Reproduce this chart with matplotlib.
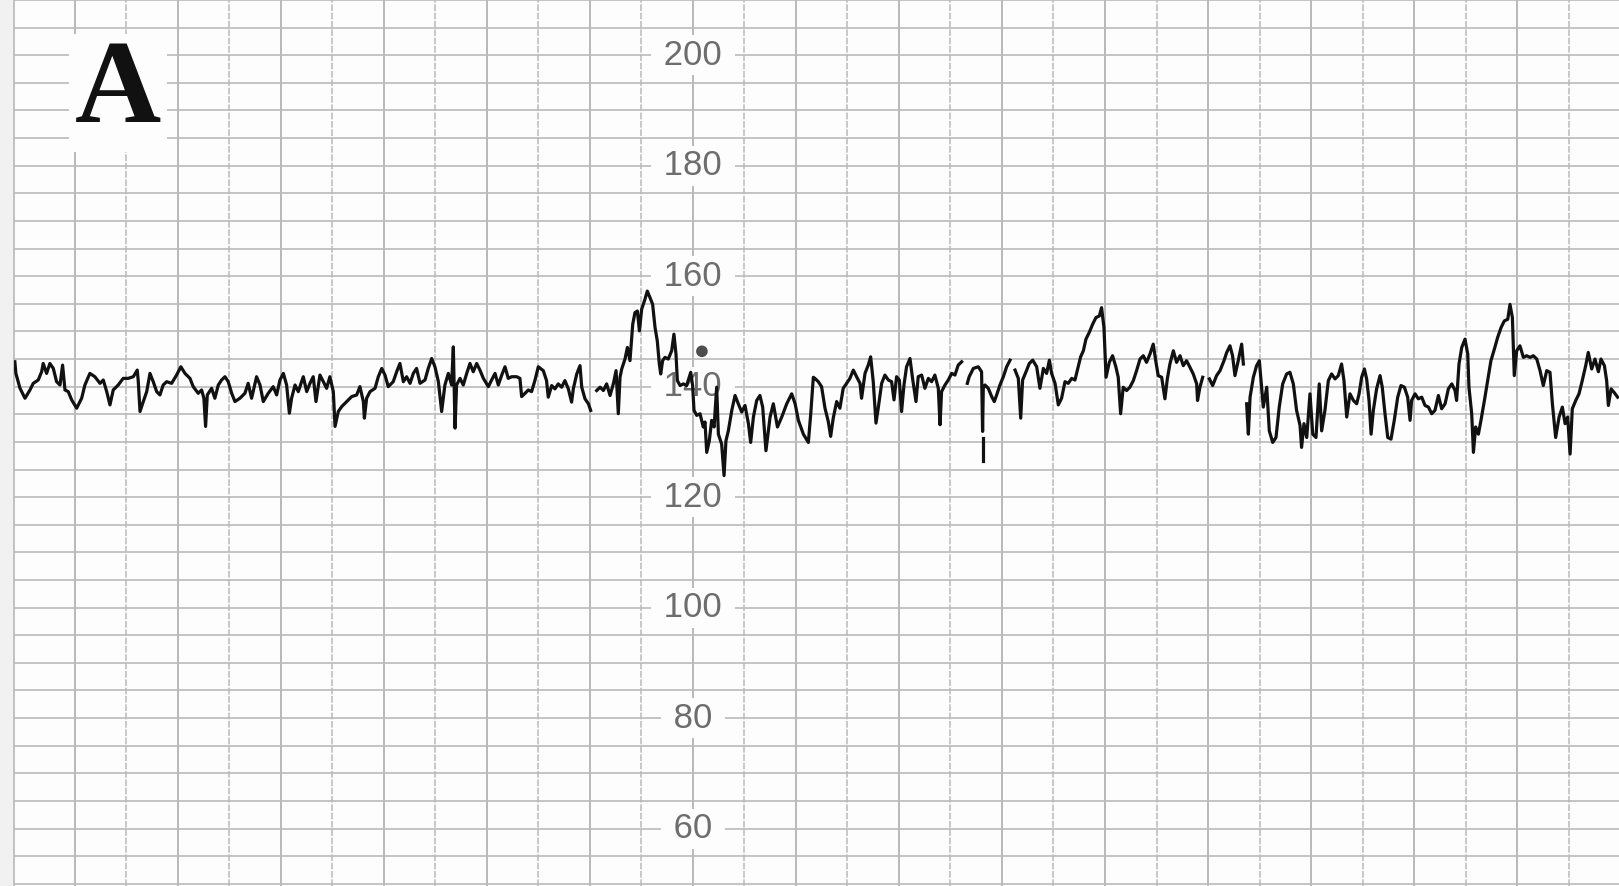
#!/usr/bin/env python3
"""
Cardiotocograph strip, panel A: fetal heart rate (bpm) on CTG paper.
"""

import numpy as np
import matplotlib.pyplot as plt

# Trace read off the strip: time in seconds (one grid column = 30 s),
# fetal heart rate in bpm. None marks a break in the pen trace.
time_s = [
    -5.0, -4.4, -2.0, 0.9, 3.8, 5.7, 8.6, 10.6, 11.5, 13.5,
    15.4, 17.4, 19.3, 21.3, 22.8, 24.2, 26.1, 28.1, 31.0, 33.9,
    35.8, 38.7, 41.6, 44.6, 46.5, 48.5, 50.4, 52.3, 55.2, 58.1,
    61.0, 64.0, 66.3, 66.9, 67.9, 69.8, 71.8, 73.7, 75.6, 77.6,
    79.5, 81.4, 83.4, 86.3, 89.2, 91.7, 94.1, 97.0, 98.9, 101.8,
    103.8, 105.1, 106.1, 107.1, 109.6, 111.5, 113.5, 115.4, 117.4, 119.3,
    121.3, 123.2, 126.1, 129.0, 130.9, 132.9, 135.8, 137.8, 139.7, 142.6,
    145.5, 147.5, 149.4, 151.4, 153.3, 154.9, 156.2, 158.2, 160.1, 162.0,
    163.0, 165.0, 166.9, 168.8, 170.4, 171.8, 172.7, 174.7, 176.6, 178.5,
    180.5, 181.5, 183.4, 185.4, 188.3, 191.2, 194.1, 196.0, 198.0, 198.6,
    199.9, 201.9, 204.8, 206.7, 208.7, 210.6, 212.5, 215.4, 217.4, 219.3,
    221.3, 223.2, 225.2, 227.1, 229.0, 231.0, 233.9, 235.8, 237.8, 239.7,
    241.7, 243.6, 245.5, 247.5, 249.4, 250.4, 251.4, 252.3, 254.3, 256.2,
    258.2, 260.1, 262.0, 264.0, 265.9, 267.9, 270.8, 272.7, 274.7, 276.6,
    278.6, 280.5, 282.4, 284.4, 287.3, 289.2, 290.2, 292.2, 294.1, 296.0,
    298.0, 299.9, 302.8, 304.7, 305.7, 307.7, 309.6, 311.5, 313.5, 315.4,
    317.4, 319.3, 320.3, 322.3, 324.2, 325.2, 327.1, 329.1, 330.4, None,
    333.9, 335.9, 337.8, 339.7, 341.7, 343.6, 345.2, 346.5, 347.5, 348.5,
    350.4, 351.8, 353.3, 354.9, 356.2, 357.6, 358.8, 360.1, 362.0, 363.4,
    365.0, 366.5, 367.9, 369.2, 370.4, 371.2, 372.3, 373.7, 375.6, 377.6,
    378.9, 380.1, 380.9, 382.5, 384.4, 386.3, 388.7, 389.8, 390.6, 392.2,
    394.1, 396.0, 397.0, 398.0, 399.5, 400.9, 402.3, 403.8, 404.8, 406.7,
    408.1, 409.2, 410.6, 412.6, 414.5, 416.4, 418.4, 420.3, 422.3, 423.6,
    425.2, 427.1, 429.0, 430.6, 432.5, 434.9, 436.8, 439.2, 441.7, 444.6,
    447.5, 449.5, 451.4, 454.3, 457.2, 458.6, 460.1, 461.0, 463.0, 464.9,
    466.9, 468.8, 470.2, 471.7, 473.7, 475.6, 477.5, 479.5, 481.4, 483.4,
    485.3, 487.3, 488.2, 490.2, 492.1, 493.5, 495.0, 496.6, 497.9, 499.9,
    501.8, 503.8, 505.7, 507.1, 508.6, 510.2, 511.5, 512.9, 514.4, 516.4,
    517.9, 519.9, 521.2, 523.2, 525.1, 527.1, 529.0, 530.9, 532.9, 533.9,
    534.8, 536.8, 538.7, 540.7, 542.6, 544.5, 546.5, None, 549.8, 550.9,
    553.3, 556.2, 558.1, 558.7, 559.1, 560.1, 562.0, 564.0, 565.5, 566.9,
    568.8, 570.8, 572.7, 574.7, None, 577.6, 579.5, 580.9, 582.0, 584.0,
    585.9, 587.9, 590.2, 592.1, 594.1, 596.0, 597.6, 598.9, 600.9, 602.8,
    604.7, 606.7, 608.6, 610.6, 612.5, 614.4, 615.8, 617.4, 618.9, 620.8,
    622.8, 624.7, 626.7, 628.0, 629.4, 630.6, 632.5, 634.4, 636.4, 637.7,
    639.1, 640.6, 642.6, 644.5, 646.5, 648.4, 650.4, 652.3, 654.2, 656.2,
    658.1, 659.7, 661.0, 663.0, 664.9, 666.3, 667.8, 669.8, 671.7, 673.7,
    675.6, 677.5, 679.5, 681.4, 683.4, 683.9, 685.3, 686.9, None, 690.8,
    692.7, 695.0, 697.0, 699.3, 700.9, 702.8, 704.3, 705.7, 707.6, 709.6,
    710.6, None, 712.5, 713.5, 714.5, 716.4, 718.3, 719.9, 721.2, 722.2,
    724.2, 725.7, 727.7, 729.6, 731.5, 733.5, 735.8, 737.7, 739.7, 741.6,
    743.6, 744.5, 745.9, 747.5, 749.4, 751.0, 752.9, 754.8, 756.2, 758.1,
    760.1, 762.0, 764.0, 765.9, 767.8, 769.2, 770.8, 772.7, 774.7, 776.6,
    778.0, 779.5, 781.1, 782.4, 783.8, 785.0, 786.3, 788.2, 790.2, 791.5,
    793.1, 794.7, 796.6, 798.5, 800.5, 802.4, 804.4, 806.3, 807.7, 808.6,
    810.6, 812.5, 814.5, 816.4, 818.4, 820.3, 822.2, 824.2, 826.1, 828.1,
    830.0, 832.0, 833.9, 834.8, 836.2, 837.8, 839.7, 841.3, 842.0, 843.6,
    844.6, 845.9, 847.5, 849.0, 851.0, 852.9, 854.8, 856.8, 858.7, 860.7,
    862.6, 864.6, 865.9, 867.3, 868.4, 869.8, 871.7, 873.7, 875.6, 877.6,
    879.5, 881.5, 883.4, 885.3, 887.3, 889.2, 890.6, 892.5, 894.5, 896.4,
    898.0, 899.5, 900.9, 902.2, 904.2, 906.1, 908.0, 910.0, 911.5, 913.5,
    915.4, 917.4, 918.9, 920.9, 922.2, 923.2, 924.8, 926.7, 928.6,
]

fhr_bpm = [
    144.5, 142.4, 139.7, 137.9, 139.4, 140.6, 141.2, 142.7, 144.2, 142.4,
    144.2, 143.3, 140.9, 140.3, 143.9, 139.4, 139.1, 137.6, 136.1, 137.9,
    140.3, 142.4, 141.8, 140.6, 141.2, 139.1, 136.7, 139.4, 140.3, 141.5,
    141.5, 141.8, 143.0, 140.9, 135.5, 137.3, 139.1, 142.4, 140.9, 139.1,
    138.5, 140.3, 140.9, 140.6, 142.1, 143.6, 142.4, 141.5, 140.0, 138.8,
    139.4, 137.9, 132.8, 138.5, 139.7, 137.9, 140.3, 141.2, 141.8, 140.9,
    138.8, 137.3, 137.9, 138.8, 140.6, 137.9, 141.8, 140.3, 137.3, 138.8,
    140.0, 138.5, 141.2, 142.4, 140.3, 135.2, 137.9, 140.3, 139.1, 140.9,
    141.8, 139.1, 140.6, 141.8, 137.3, 140.3, 142.1, 140.9, 139.7, 141.8,
    139.1, 132.8, 135.5, 136.4, 137.3, 138.2, 138.5, 140.0, 137.3, 134.3,
    137.9, 139.1, 139.7, 141.8, 143.3, 142.1, 140.0, 140.9, 142.7, 144.2,
    140.9, 141.8, 140.6, 142.4, 143.3, 140.6, 141.2, 143.3, 145.1, 143.6,
    140.9, 135.5, 140.3, 142.4, 140.3, 147.2, 132.5, 140.3, 141.5, 140.3,
    142.4, 144.2, 142.7, 144.2, 143.0, 141.5, 140.0, 141.2, 142.4, 140.3,
    142.1, 143.6, 141.5, 141.8, 141.8, 141.5, 138.2, 138.8, 139.4, 139.1,
    141.2, 143.6, 142.9, 141.1, 138.1, 140.2, 139.6, 140.5, 139.9, 141.1,
    139.6, 137.2, 139.6, 142.3, 143.8, 139.9, 137.8, 136.9, 135.7, None,
    139.3, 139.9, 139.3, 140.5, 138.4, 140.5, 142.9, 135.1, 141.7, 143.2,
    145.0, 147.1, 144.7, 151.3, 153.4, 153.7, 150.1, 154.0, 155.8, 157.3,
    156.1, 154.9, 150.7, 148.3, 144.1, 142.3, 144.7, 145.3, 145.0, 146.5,
    149.5, 145.9, 141.1, 140.2, 140.5, 140.2, 142.6, 140.2, 135.7, 134.8,
    135.1, 132.7, 133.6, 128.1, 130.2, 133.9, 132.7, 139.9, 131.4, 129.6,
    123.9, 130.2, 132.0, 135.7, 138.4, 136.9, 135.4, 136.6, 133.3, 129.9,
    134.5, 137.5, 138.4, 136.3, 128.4, 134.5, 136.9, 132.7, 134.5, 136.9,
    138.7, 136.9, 133.9, 131.4, 129.9, 135.1, 141.7, 141.5, 140.9, 140.0,
    136.1, 133.7, 131.0, 134.3, 137.3, 136.1, 139.7, 140.6, 141.5, 143.0,
    141.8, 140.6, 137.9, 142.4, 143.9, 145.4, 140.9, 133.4, 136.1, 140.6,
    142.1, 141.2, 140.9, 137.6, 141.8, 141.2, 135.5, 140.3, 143.6, 145.1,
    141.5, 137.3, 141.8, 142.1, 139.7, 141.5, 140.9, 142.1, 139.7, 133.1,
    139.1, 140.3, 141.2, 142.4, 142.1, 143.9, 144.5, None, 140.6, 141.8,
    143.3, 143.6, 142.7, 131.9, 139.7, 140.3, 139.7, 138.2, 137.3, 138.5,
    140.3, 141.8, 143.6, 144.8, None, 143.0, 141.5, 134.3, 141.2, 142.7,
    144.2, 144.8, 143.6, 139.7, 143.3, 142.4, 144.8, 142.4, 140.6, 136.7,
    137.9, 140.9, 140.6, 141.5, 141.2, 143.6, 145.4, 146.5, 148.6, 149.8,
    151.3, 152.5, 152.8, 154.3, 150.7, 141.7, 144.4, 145.6, 143.5, 141.7,
    135.1, 139.9, 139.3, 139.9, 141.1, 142.9, 145.0, 145.6, 144.4, 145.9,
    147.7, 144.4, 142.0, 141.7, 137.8, 141.4, 144.1, 146.5, 144.4, 145.6,
    143.8, 144.7, 143.5, 142.3, 140.5, 137.5, 139.9, 141.7, None, 141.4,
    140.2, 142.0, 142.9, 144.7, 146.2, 147.4, 145.6, 142.0, 144.7, 147.7,
    144.1, None, 136.9, 131.4, 138.1, 141.7, 143.8, 144.7, 139.9, 136.3,
    139.9, 132.0, 129.9, 130.8, 136.3, 140.5, 142.3, 142.6, 140.5, 135.7,
    133.0, 129.0, 133.3, 130.8, 138.7, 131.4, 130.8, 140.5, 132.0, 135.7,
    141.1, 142.3, 141.4, 142.0, 144.1, 141.1, 134.5, 138.7, 137.5, 136.9,
    138.7, 141.7, 143.2, 141.4, 137.5, 131.4, 135.7, 139.6, 142.0, 139.9,
    135.1, 130.8, 130.5, 133.9, 138.1, 140.2, 139.9, 138.1, 133.9, 137.5,
    138.7, 137.8, 138.1, 136.6, 136.3, 135.1, 135.7, 138.4, 136.0, 136.9,
    139.6, 140.5, 139.3, 137.5, 144.1, 147.1, 148.6, 145.9, 139.9, 135.1,
    128.1, 132.7, 131.4, 133.9, 137.5, 141.1, 144.7, 146.8, 148.9, 150.7,
    151.9, 152.2, 154.9, 152.5, 142.0, 146.5, 147.4, 145.3, 145.6, 145.3,
    145.6, 145.0, 142.9, 140.2, 142.9, 142.6, 136.9, 130.8, 134.5, 136.3,
    133.3, 134.5, 127.8, 136.0, 137.5, 138.7, 141.1, 143.8, 146.2, 143.2,
    145.0, 142.7, 145.0, 143.8, 141.1, 136.6, 139.6, 138.9, 138.1,
]

# short pen stroke detached below the dip near 9 min
detached_t = [558.7, 558.7]
detached_bpm = [130.7, 126.5]

# ink smudge on the paper
smudge_t = [395.2]
smudge_bpm = [146.4]

scale_values = [200, 180, 160, 140, 120, 100, 80, 60]
scale_time = 390
panel_letter = 'A'

T_MIN, T_MAX = -5.5, 929.4
BPM_MIN, BPM_MAX = 49.6, 209.95

assert len(time_s) == len(fhr_bpm)

t = np.array(time_s, dtype=float)
bpm = np.array(fhr_bpm, dtype=float)

fig = plt.figure(figsize=(16.19, 8.86), dpi=100, facecolor='#f1f1f1')
ax = fig.add_axes([14 / 1619, 0, 1 - 14 / 1619, 1])
ax.set_facecolor('#fdfdfd')
ax.set_xlim(T_MIN, T_MAX)
ax.set_ylim(BPM_MIN, BPM_MAX)

# CTG paper grid: 5 bpm rows, 30 s columns (solid / dashed alternate)
ax.set_yticks(np.arange(50, 211, 5))
ax.set_xticks(np.arange(30, T_MAX, 60))
ax.set_xticks(np.arange(60, T_MAX, 60), minor=True)
ax.tick_params(which='both', length=0, labelleft=False, labelbottom=False)
ax.set_axisbelow(True)
ax.grid(axis='y', which='major', color='#bababa', linewidth=1.2)
ax.grid(axis='x', which='major', color='#b3b3b3', linewidth=1.3)
ax.grid(axis='x', which='minor', color='#bfbfbf', linewidth=1.2,
        linestyle=(0, (4, 1)))

for side in ('top', 'right', 'bottom'):
    ax.spines[side].set_visible(False)
ax.spines['left'].set_color('#bdbdbd')
ax.spines['left'].set_linewidth(1.3)

# bpm scale printed on the paper
for v in scale_values:
    ax.text(scale_time, v, f' {v} ', ha='center', va='center', fontsize=25,
            color='#6d6d6d', family='Liberation Sans', zorder=2,
            bbox=dict(boxstyle='square,pad=0.1', fc='#fdfdfd', ec='none'))

ax.text(55, 188, panel_letter, ha='center', va='baseline', fontsize=86,
        fontweight='bold', family='Liberation Serif', color='#111111', zorder=2,
        bbox=dict(boxstyle='square,pad=0.05', fc='#fdfdfd', ec='none'))

# heart-rate trace
ax.plot(t, bpm, color='#111111', linewidth=2.3, zorder=3)
ax.plot(detached_t, detached_bpm, color='#111111', linewidth=2.3, zorder=3)
ax.scatter(smudge_t, smudge_bpm, s=70, color='#4d4d4d', edgecolors='none', zorder=3)

fig.savefig('out.png', dpi=100, facecolor=fig.get_facecolor())
plt.close(fig)
